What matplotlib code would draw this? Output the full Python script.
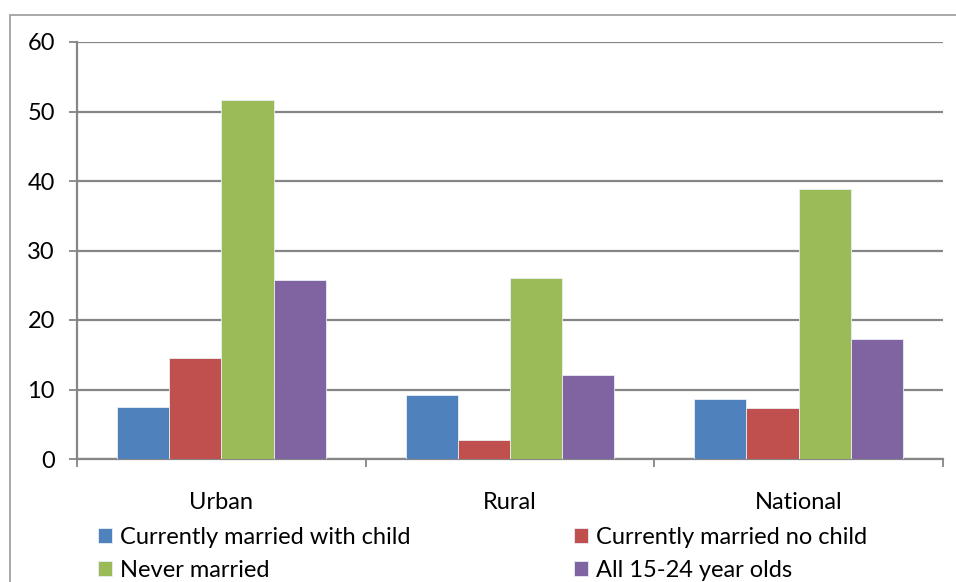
import matplotlib.pyplot as plt
import matplotlib.patches as mpatches
import numpy as np

plt.rcParams['font.family'] = ['Lato', 'DejaVu Sans']

categories = ['Urban', 'Rural', 'National']
series_names = ['Currently married with child', 'Currently married no child',
                'Never married', 'All 15-24 year olds']
married_with_child = [7.5, 9.2, 8.7]
married_no_child = [14.6, 2.7, 7.4]
never_married = [51.7, 26.0, 38.9]
all_15_24 = [25.7, 12.1, 17.3]

colores = ['#4F81BD', '#C0504D', '#9BBB59', '#8064A2']
gris = '#868686'

W, H = 956, 582
fig = plt.figure(figsize=(W / 100, H / 100), dpi=100)

# marco del grafico (borde exterior)
fig.patches.append(mpatches.Rectangle((10 / W, -0.1), 1.2, 1.1 - 15 / H,
                                      transform=fig.transFigure, fill=False,
                                      edgecolor='#9a9a9a', lw=1.2))

ax = fig.add_axes([77 / W, (H - 459) / H, (943 - 77) / W, (459 - 42) / H])

datos = [married_with_child, married_no_child, never_married, all_15_24]
x = np.arange(len(categories)) + 0.5
ancho = 0.181
barras = []
for i, serie in enumerate(datos):
    b = ax.bar(x + (i - 1.5) * ancho, serie, ancho, color=colores[i],
               edgecolor='#e8eef6', linewidth=0.6, zorder=3, label=series_names[i])
    barras.append(b)

ax.set_xlim(0, 3)
ax.set_ylim(0, 60)
ax.set_yticks(range(0, 61, 10))
ax.yaxis.grid(True, color=gris, lw=1.6, zorder=0)
ax.set_axisbelow(True)

for s in ['top', 'right']:
    ax.spines[s].set_visible(False)
for s in ['left', 'bottom']:
    ax.spines[s].set_color(gris)
    ax.spines[s].set_linewidth(1.6)

ax.set_xticks([0, 1, 2, 3])
ax.set_xticklabels([])
ax.set_xticks(x, minor=True)
ax.set_xticklabels(categories, minor=True)
ax.tick_params(axis='x', which='major', direction='out', length=6, width=1.3, color=gris)
ax.tick_params(axis='x', which='minor', length=0, pad=24, labelsize=17)
ax.tick_params(axis='y', direction='out', length=6, width=1.3, color=gris,
               labelsize=17, pad=10)

# orden por filas: azul, rojo / verde, morado
orden = [0, 2, 1, 3]
fig.legend(handles=[barras[i][0] for i in orden],
           labels=[series_names[i] for i in orden], ncol=2,
           loc='upper left', bbox_to_anchor=(98 / W, (H - 527) / H),
           frameon=False, fontsize=17, handlelength=0.6, handleheight=0.6,
           handletextpad=0.35, columnspacing=6.9, labelspacing=0.5,
           borderaxespad=0, borderpad=0)

fig.savefig('out.png', dpi=100)
